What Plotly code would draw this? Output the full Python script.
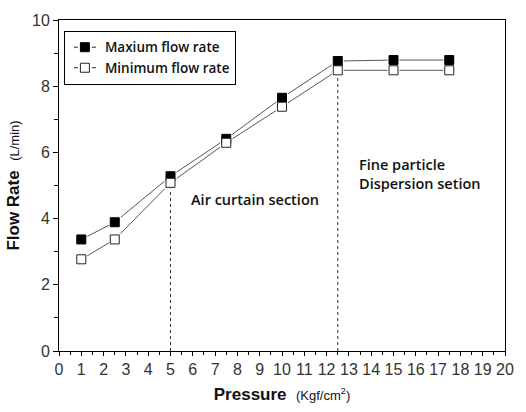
import plotly.graph_objects as go

pressure = [1, 2.5, 5, 7.5, 10, 12.5, 15, 17.5]
max_flow = [3.37, 3.89, 5.28, 6.41, 7.65, 8.76, 8.79, 8.79]
min_flow = [2.77, 3.37, 5.08, 6.29, 7.38, 8.48, 8.48, 8.48]
section_x = [5, 12.5]
section_y = [5.08, 8.48]
max_name = "Maxium flow rate"
min_name = "Minimum flow rate"

line_col = "#555555"
text_font = dict(family="Open Sans", size=14.5, color="#111111", weight=600)

fig = go.Figure()

# dashed section dividers
for sx, sy in zip(section_x, section_y):
    fig.add_trace(go.Scatter(x=[sx, sx], y=[0, sy], mode="lines",
                             line=dict(color="#333333", width=1, dash="3px,3px"),
                             showlegend=False, hoverinfo="skip"))

# connecting lines
for ys in (max_flow, min_flow):
    fig.add_trace(go.Scatter(x=pressure, y=ys, mode="lines",
                             line=dict(color=line_col, width=1),
                             showlegend=False, hoverinfo="skip"))

# white halos to give the gap between line and marker
for ys in (max_flow, min_flow):
    fig.add_trace(go.Scatter(x=pressure, y=ys, mode="markers",
                             marker=dict(symbol="square", size=12, color="white",
                                         line=dict(width=0)),
                             showlegend=False, hoverinfo="skip"))

fig.add_trace(go.Scatter(x=pressure, y=max_flow, mode="markers", showlegend=False,
                         marker=dict(symbol="square", size=9, color="black",
                                     line=dict(color="black", width=1))))
fig.add_trace(go.Scatter(x=pressure, y=min_flow, mode="markers", showlegend=False,
                         marker=dict(symbol="square", size=9, color="white",
                                     line=dict(color="#222222", width=1))))

# legend-only entries, drawn as "-■-"
legend_dash = "0px,4px,4px,14px,4px,100px"
fig.add_trace(go.Scatter(x=[None], y=[None], mode="lines+markers", name=max_name,
                         line=dict(color="#222222", width=1, dash=legend_dash),
                         marker=dict(symbol="square", size=9, color="black",
                                     line=dict(color="black", width=1))))
fig.add_trace(go.Scatter(x=[None], y=[None], mode="lines+markers", name=min_name,
                         line=dict(color="#222222", width=1, dash=legend_dash),
                         marker=dict(symbol="square", size=9, color="white",
                                     line=dict(color="#222222", width=1))))

fig.add_annotation(x=5.85, y=4.57, xref="x", yref="y", text="Air curtain section",
                   showarrow=False, xanchor="left", yanchor="middle", font=text_font)
fig.add_annotation(x=13.35, y=5.34, xref="x", yref="y",
                   text="Fine particle<br>Dispersion setion",
                   showarrow=False, xanchor="left", yanchor="middle", align="left",
                   font=text_font)

tick_font = dict(family="Liberation Sans, Arial", size=16, color="#333333")
title_font = dict(family="Liberation Sans, Arial", size=17, color="#111111")

fig.update_xaxes(range=[0, 20], tickmode="linear", tick0=0, dtick=1,
                 ticks="outside", ticklen=4, tickwidth=1, tickcolor="black",
                 minor=dict(ticks="outside", ticklen=3, dtick=0.5, tickcolor="black"),
                 showline=True, linecolor="black", linewidth=1, mirror=True,
                 showgrid=False, zeroline=False, tickfont=tick_font,
                 title=dict(text="<b>Pressure</b>  <span style='font-size:13px'>(Kgf/cm<sup>2</sup>)</span>",
                            font=title_font, standoff=10))
fig.update_yaxes(range=[0, 10], tickmode="linear", tick0=0, dtick=2,
                 ticks="outside", ticklen=5, tickwidth=1, tickcolor="black",
                 minor=dict(ticks="outside", ticklen=4, dtick=1, tickcolor="black"),
                 showline=True, linecolor="black", linewidth=1, mirror=True,
                 showgrid=False, zeroline=False, tickfont=tick_font,
                 title=dict(text="<b>Flow Rate</b>  <span style='font-size:13px'>(L/min)</span>",
                            font=title_font, standoff=8))

fig.update_layout(
    width=526, height=412,
    margin=dict(l=58, r=14, t=16, b=59),
    plot_bgcolor="white", paper_bgcolor="white",
    legend=dict(x=0.011, y=0.967, xanchor="left", yanchor="top",
                bordercolor="black", borderwidth=1, bgcolor="white",
                font=dict(family="Open Sans", size=13.5, color="#111111", weight=600),
                itemwidth=30, tracegroupgap=0),
    showlegend=True,
)

fig.write_html("out.html")
